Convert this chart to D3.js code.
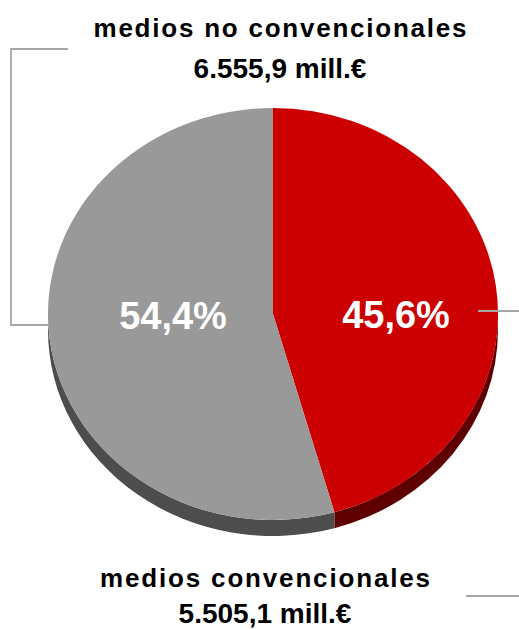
<!DOCTYPE html>
<html>
<head>
<meta charset="utf-8">
<script src="https://cdn.jsdelivr.net/npm/d3@7"></script>
<style>
  html, body { margin: 0; padding: 0; background: #fff; }
  svg { display: block; font-family: "Liberation Sans", Arial, sans-serif; }
</style>
</head>
<body>
<script>
// ---- data ----
const categories = ["medios convencionales", "medios no convencionales"];
const shares = [45.6, 54.4];
const amounts = ["5.505,1", "6.555,9"];
const shareLabels = ["45,6%", "54,4%"];
const topColors = ["#cc0000", "#999999"];
const sideColors = ["#5e0000", "#4d4d4d"];

const W = 519, H = 630;
const cx = 273, cy = 314, rx = 225, ry = 206, depth = 16;

const svg = d3.select("body").append("svg").attr("width", W).attr("height", H);

const pie = d3.pie().sort(null).value(d => d)(shares);

const pt = (a, dy = 0) => [cx + rx * Math.sin(a), cy - ry * Math.cos(a) + dy];

// side walls (lower half only)
const lo = Math.PI / 2, hi = 3 * Math.PI / 2;
pie.forEach((s, i) => {
  const a0 = Math.max(s.startAngle, lo), a1 = Math.min(s.endAngle, hi);
  if (a1 <= a0) return;
  const p0 = pt(a0), p1 = pt(a1), q1 = pt(a1, depth), q0 = pt(a0, depth);
  const large = (a1 - a0) > Math.PI ? 1 : 0;
  const d = `M${p0[0]},${p0[1]} A${rx},${ry} 0 ${large} 1 ${p1[0]},${p1[1]}` +
            ` L${q1[0]},${q1[1]} A${rx},${ry} 0 ${large} 0 ${q0[0]},${q0[1]} Z`;
  svg.append("path").attr("d", d).attr("fill", sideColors[i]);
});

// top faces
const arc = d3.arc().innerRadius(0).outerRadius(rx);
svg.append("g")
  .attr("transform", `translate(${cx},${cy}) scale(1,${ry / rx})`)
  .selectAll("path").data(pie).join("path")
  .attr("d", arc)
  .attr("fill", (d, i) => topColors[i]);

// percentage labels
const labelPos = [[396, 328], [173, 329]];
pie.forEach((s, i) => {
  svg.append("text")
    .attr("x", labelPos[i][0]).attr("y", labelPos[i][1])
    .attr("text-anchor", "middle")
    .attr("font-size", 38).attr("font-weight", "bold")
    .attr("fill", "#fff")
    .text(shareLabels[i]);
});

// leader lines
const lc = "#a6a6a6";
svg.append("path").attr("d", `M68,49 H11 V325 H${cx - rx}`)
  .attr("fill", "none").attr("stroke", lc).attr("stroke-width", 1.8);
svg.append("path").attr("d", `M478,311 H519`)
  .attr("fill", "none").attr("stroke", lc).attr("stroke-width", 1.8);
svg.append("path").attr("d", `M466,596 H519`)
  .attr("fill", "none").attr("stroke", lc).attr("stroke-width", 1.8);

// category labels
function catLabel(name, amount, x, y1, y2, len1) {
  svg.append("text").attr("x", x).attr("y", y1)
    .attr("text-anchor", "middle").attr("font-size", 26).attr("font-weight", "bold")
    .attr("textLength", len1).attr("lengthAdjust", "spacing")
    .text(name);
  svg.append("text").attr("x", x).attr("y", y2)
    .attr("text-anchor", "middle").attr("font-size", 28).attr("font-weight", "bold")
    .text(amount + " mill.€");
}
catLabel(categories[1], amounts[1], 280, 37, 78, 373);
catLabel(categories[0], amounts[0], 265, 587, 623, 330);
</script>
</body>
</html>
